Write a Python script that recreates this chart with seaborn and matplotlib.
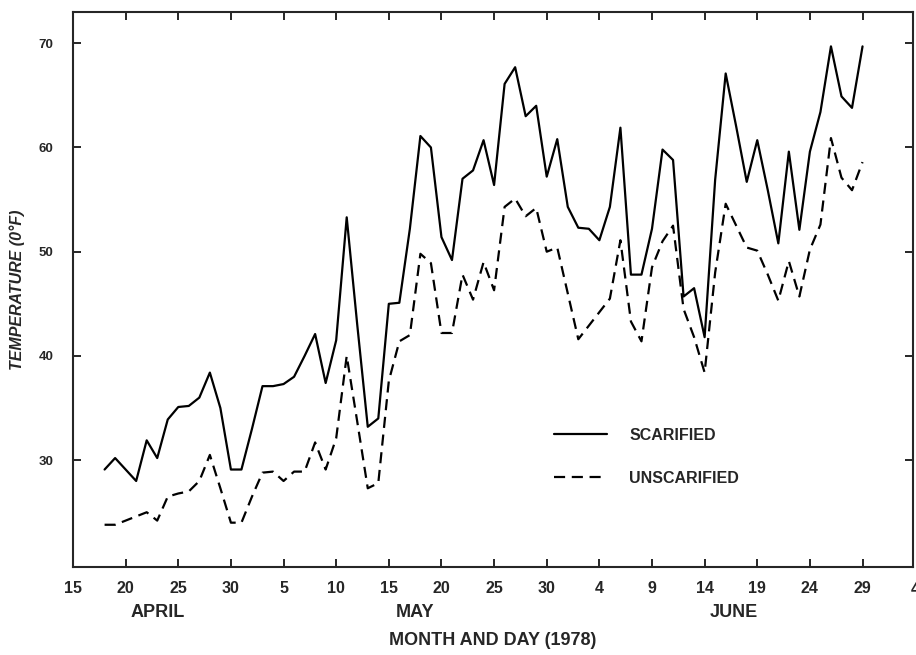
import numpy as np
import pandas as pd
import matplotlib
matplotlib.use('Agg')
import matplotlib.pyplot as plt
import matplotlib.dates as mdates
import matplotlib.transforms as mtransforms
import seaborn as sns

# daily readings, April 18 to June 29, 1978
dates = pd.date_range('1978-04-18', '1978-06-29', freq='D')

scarified = [29.1, 30.2, 29.1, 28.0, 31.9, 30.2, 33.9, 35.1, 35.2, 36.0,
             38.4, 35.0, 29.1, 29.1, 33.0, 37.1, 37.1, 37.3, 38.0, 40.0,
             42.1, 37.4, 41.5, 53.3, 43.0, 33.2, 34.0, 45.0, 45.1, 52.2,
             61.1, 60.0, 51.4, 49.2, 57.0, 57.8, 60.7, 56.4, 66.1, 67.7,
             63.0, 64.0, 57.2, 60.8, 54.3, 52.3, 52.2, 51.1, 54.3, 61.9,
             47.8, 47.8, 52.2, 59.8, 58.8, 45.7, 46.5, 41.8, 56.9, 67.1,
             62.0, 56.7, 60.7, 55.9, 50.8, 59.6, 52.1, 59.6, 63.4, 69.7,
             64.9, 63.8, 69.7]

unscarified = [23.8, 23.8, 24.2, 24.6, 25.0, 24.2, 26.5, 26.8, 27.0, 28.0,
               30.5, 27.3, 24.0, 24.0, 26.5, 28.8, 28.9, 28.0, 28.9, 28.9,
               31.7, 29.1, 32.1, 40.0, 33.7, 27.3, 27.8, 37.6, 41.4, 42.0,
               49.8, 48.9, 42.2, 42.2, 47.8, 45.4, 49.0, 46.3, 54.3, 55.1,
               53.4, 54.2, 50.0, 50.4, 46.0, 41.6, 42.9, 44.2, 45.5, 51.1,
               43.3, 41.4, 48.5, 51.0, 52.5, 44.5, 41.8, 38.4, 48.0, 54.6,
               52.5, 50.4, 50.1, 47.8, 45.3, 49.1, 45.7, 50.2, 52.6, 60.9,
               57.1, 55.9, 58.6]

series_names = ['SCARIFIED', 'UNSCARIFIED']
months = ['APRIL', 'MAY', 'JUNE']
month_dates = ['1978-04-23', '1978-05-17 12:00', '1978-06-16 18:00']
yticks = [30, 40, 50, 60, 70]

df = pd.DataFrame({
    'date': list(dates) * 2,
    'temp': scarified + unscarified,
    'treatment': [series_names[0]] * len(dates) + [series_names[1]] * len(dates),
})

sns.set_style('ticks')
plt.rcParams['font.family'] = ['Liberation Sans', 'DejaVu Sans']

fig = plt.figure(figsize=(9.16, 6.55), dpi=100)
ax = fig.add_axes([0.0797, 0.1344, 0.917, 0.8473])

sns.lineplot(data=df, x='date', y='temp', style='treatment', color='black',
             dashes={series_names[0]: '', series_names[1]: (5, 3)},
             linewidth=1.6, ax=ax)

ax.set_xlim(pd.Timestamp('1978-04-15'), pd.Timestamp('1978-07-03 19:00'))
ax.set_ylim(19.75, 73)

xt = pd.date_range('1978-04-15', periods=16, freq='5D')
ax.set_xticks(xt)
ax.set_xticklabels([str(d.day) for d in xt])
ax.set_yticks(yticks)

ax.tick_params(direction='in', top=True, right=True, length=6, width=1.4,
               labelsize=11.5)
ax.tick_params(axis='x', pad=10)
ax.tick_params(axis='y', pad=14, labelsize=9.5)
for lab in ax.get_xticklabels() + ax.get_yticklabels():
    lab.set_fontweight('bold')
for sp in ax.spines.values():
    sp.set_linewidth(1.5)
    sp.set_visible(True)

# partly cut July 4 label at the right edge
trans = mtransforms.blended_transform_factory(ax.transData, ax.transAxes)
ax.text(mdates.date2num(pd.Timestamp('1978-07-04')), -0.027, '4',
        transform=trans, ha='center', va='top', fontsize=11.5,
        fontweight='bold', clip_on=False)

for m, md in zip(months, month_dates):
    ax.text(mdates.date2num(pd.Timestamp(md)), -0.066, m, transform=trans,
            ha='center', va='top', fontsize=13, fontweight='bold')

ax.set_xlabel('MONTH AND DAY (1978)', fontsize=13, fontweight='bold',
              labelpad=26)
ax.set_ylabel('TEMPERATURE (0°F)', fontsize=11.5, fontweight='bold',
              fontstyle='italic', labelpad=10)

leg = ax.legend(frameon=False, loc='upper left', bbox_to_anchor=(0.565, 0.262),
                handlelength=3.3, labelspacing=1.75, handletextpad=1.4,
                fontsize=11.5, borderaxespad=0)
for t in leg.get_texts():
    t.set_fontweight('bold')
for h in leg.get_lines():
    h.set_linewidth(1.6)

fig.savefig('out.png', dpi=100)
